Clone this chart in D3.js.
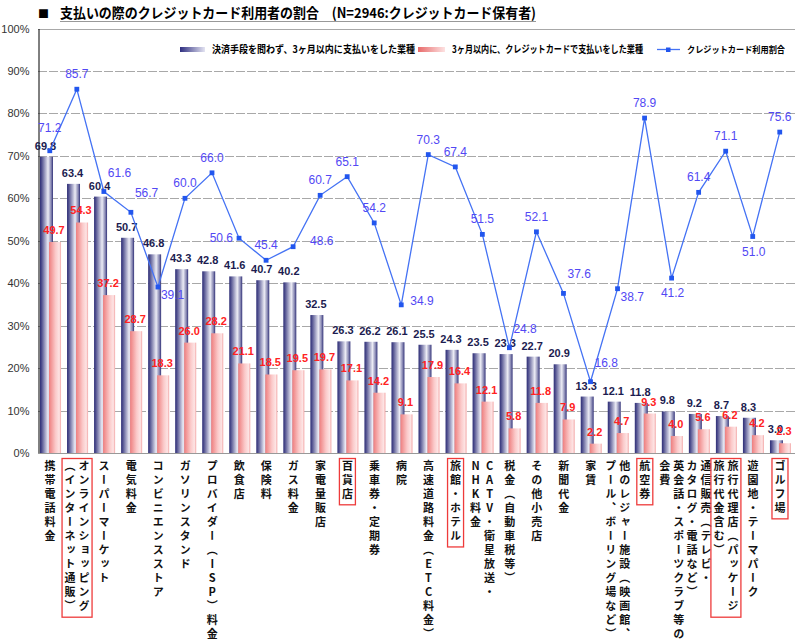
<!DOCTYPE html>
<html><head><meta charset="utf-8">
<script src="https://cdn.jsdelivr.net/npm/d3@7/dist/d3.min.js"></script>
<style>body{margin:0;background:#fff}svg{display:block}
.vt{writing-mode:vertical-rl;text-orientation:upright;}
</style>
</head><body><svg id="c" width="800" height="644"></svg>
<script>
const titleText = "支払いの際のクレジットカード利用者の割合　(N=2946:クレジットカード保有者)";
const seriesNames = ["決済手段を問わず、3ヶ月以内に支払いをした業種","3ヶ月以内に、クレジットカードで支払いをした業種","クレジットカード利用割合"];
const categories = ["携帯電話料金","オンラインショッピング（インターネット通販）","スーパーマーケット","電気料金","コンビニエンスストア","ガソリンスタンド","プロバイダー（ISP）料金","飲食店","保険料","ガス料金","家電量販店","百貨店","乗車券・定期券","病院","高速道路料金（ETC料金）","旅館・ホテル","CATV・衛星放送・NHK料金","税金（自動車税等）","その他小売店","新聞代金","家賃","他のレジャー施設（映画館、プール、ボーリング場など）","航空券","英会話・スポーツクラブ等の会費","通信販売（テレビ・カタログ・電話など）","旅行代理店（パッケージ旅行代金含む）","遊園地・テーマパーク","ゴルフ場"];
// tick label columns, right column first (vertical text)
const xLabelCols = [["携帯電話料金"],["オンラインショッピング","（インターネット通販）"],["スーパーマーケット"],["電気料金"],["コンビニエンスストア"],["ガソリンスタンド"],["プロバイダー（ISP）料金"],["飲食店"],["保険料"],["ガス料金"],["家電量販店"],["百貨店"],["乗車券・定期券"],["病院"],["高速道路料金（ETC料金）"],["旅館・ホテル"],["CATV・衛星放送・","NHK料金"],["税金（自動車税等）"],["その他小売店"],["新聞代金"],["家賃"],["他のレジャー施設（映画館、","プール、ボーリング場など）"],["航空券"],["英会話・スポーツクラブ等の","会費"],["通信販売（テレビ・","カタログ・電話など）"],["旅行代理店（パッケージ","旅行代金含む）"],["遊園地・テーマパーク"],["ゴルフ場"]];
const totalPct = [69.8,63.4,60.4,50.7,46.8,43.3,42.8,41.6,40.7,40.2,32.5,26.3,26.2,26.1,25.5,24.3,23.5,23.3,22.7,20.9,13.3,12.1,11.8,9.8,9.2,8.7,8.3,3.0];
const creditPct = [49.7,54.3,37.2,28.7,18.3,26.0,28.2,21.1,18.5,19.5,19.7,17.1,14.2,9.1,17.9,16.4,12.1,5.8,11.8,7.9,2.2,4.7,9.3,4.0,5.6,6.2,4.2,2.3];
const ratePct = [71.2,85.7,61.6,56.7,39.1,60.0,66.0,50.6,45.4,48.6,60.7,65.1,54.2,34.9,70.3,67.4,51.5,24.8,52.1,37.6,16.8,38.7,78.9,41.2,61.4,71.1,51.0,75.6];
const rateLabelPos = ["A","a","ra","ra","rb","a","a","l","a","R","a","a","a","r","a","a","a","ra","a","ra","ra","rb","a","b","a","a","b","a"];
const highlighted = ["オンラインショッピング（インターネット通販）","百貨店","旅館・ホテル","航空券","旅行代理店（パッケージ旅行代金含む）","ゴルフ場"];
const yTicks = [0,10,20,30,40,50,60,70,80,90,100];

const JP = "'Noto Sans CJK JP','Noto Sans',sans-serif";
const AR = "'Liberation Sans',Arial,sans-serif";
const svg = d3.select("#c");
const defs = svg.append("defs");
function grad(id, stops){
  const g = defs.append("linearGradient").attr("id",id).attr("x1","0").attr("x2","1").attr("y1","0").attr("y2","0");
  stops.forEach(s=>g.append("stop").attr("offset",s[0]).attr("stop-color",s[1]));
}
grad("gBlue",[[0,"#2e2e76"],[0.12,"#4c4c8c"],[0.62,"#ececf5"],[0.88,"#7c7cab"],[1,"#2e2e76"]]);
grad("gRed",[[0,"#ee7e7e"],[0.55,"#fbcaca"],[0.85,"#fde4e4"],[1,"#f3a6a6"]]);
grad("gBlueL",[[0,"#2e2e80"],[1,"#e4e4f2"]]);
grad("gRedL",[[0,"#e86a6a"],[1,"#fde2e2"]]);

const x = d3.scaleBand().domain(categories).range([38,795]).padding(0);
const y = d3.scaleLinear().domain([0,100]).range([453,28.5]);
const bw = x.bandwidth();

// title
svg.append("text").attr("x",38).attr("y",18).attr("font-size",11).attr("font-family",JP).text("■");
svg.append("text").attr("x",60).attr("y",18).attr("font-size",14).attr("font-weight",700).attr("font-family",JP)
  .attr("textLength",476).attr("lengthAdjust","spacingAndGlyphs").attr("fill","#000").text(titleText);
svg.append("line").attr("x1",60).attr("x2",536).attr("y1",21.5).attr("y2",21.5).attr("stroke","#999").attr("stroke-width",1);

// grid
const grid = svg.append("g");
grid.selectAll("line").data(yTicks.filter(t=>t>0)).join("line")
  .attr("x1",38).attr("x2",795).attr("y1",d=>Math.round(y(d))+0.5).attr("y2",d=>Math.round(y(d))+0.5)
  .attr("stroke","#a8a8a8").attr("stroke-width",1)
  .attr("stroke-dasharray",d=>d===100?null:"9,2");
// y axis
const yAxis = d3.axisLeft(y).tickValues(yTicks).tickFormat(d=>d+"%").tickSize(0).tickPadding(9);
const ya = svg.append("g").attr("transform","translate(38.5,0)").call(yAxis);
ya.select(".domain").attr("stroke","#000");
ya.selectAll("text").attr("font-family",AR).attr("font-size",11).attr("fill","#333");

// legend
svg.append("rect").attr("x",180).attr("y",47).attr("width",25).attr("height",5).attr("fill","url(#gBlueL)");
svg.append("text").attr("x",212).attr("y",53).attr("font-size",10).attr("font-weight",700).attr("font-family",JP)
  .attr("textLength",203).attr("lengthAdjust","spacingAndGlyphs").text(seriesNames[0]);
svg.append("rect").attr("x",418).attr("y",47).attr("width",27).attr("height",5).attr("fill","url(#gRedL)");
svg.append("text").attr("x",452).attr("y",53).attr("font-size",10).attr("font-weight",700).attr("font-family",JP)
  .attr("textLength",191).attr("lengthAdjust","spacingAndGlyphs").text(seriesNames[1]);
svg.append("line").attr("x1",657).attr("x2",680).attr("y1",49.5).attr("y2",49.5).attr("stroke","#4472f4").attr("stroke-width",1.3);
svg.append("rect").attr("x",666).attr("y",47.5).attr("width",4.5).attr("height",4.5).attr("fill","#2256ee");
svg.append("text").attr("x",687).attr("y",53).attr("font-size",9).attr("font-weight",700).attr("font-family",JP)
  .attr("textLength",98).attr("lengthAdjust","spacingAndGlyphs").text(seriesNames[2]);

// bars
const bars = svg.append("g");
bars.selectAll("rect.b").data(categories).join("rect").attr("class","b")
  .attr("x",d=>x(d)+bw*0.074).attr("width",bw*0.48)
  .attr("y",(d,i)=>y(totalPct[i])).attr("height",(d,i)=>y(0)-y(totalPct[i]))
  .attr("fill","url(#gBlue)");
bars.selectAll("rect.r").data(categories).join("rect").attr("class","r")
  .attr("x",d=>x(d)+bw*0.407).attr("width",bw*0.445)
  .attr("y",(d,i)=>y(creditPct[i])).attr("height",(d,i)=>y(0)-y(creditPct[i]))
  .attr("fill","url(#gRed)");
svg.append("line").attr("x1",38).attr("x2",795).attr("y1",453.5).attr("y2",453.5).attr("stroke","#999");

// bar labels
svg.append("g").selectAll("text").data(categories).join("text")
  .attr("x",d=>x(d)+bw*0.074+bw*0.24-1).attr("y",(d,i)=>y(totalPct[i])-7)
  .attr("text-anchor","middle").attr("font-family",AR).attr("font-size",11).attr("font-weight",700).attr("fill","#1c1c50")
  .text((d,i)=>totalPct[i].toFixed(1));
svg.append("g").selectAll("text").data(categories).join("text")
  .attr("x",d=>x(d)+bw*0.407+bw*0.222-1).attr("y",(d,i)=>y(creditPct[i])-8)
  .attr("text-anchor","middle").attr("font-family",AR).attr("font-size",11).attr("font-weight",700).attr("fill","#ff2222")
  .text((d,i)=>creditPct[i].toFixed(1));

// line
const px = d=>x(d)+bw*0.436;
const line = d3.line().x(d=>px(d)).y((d,i)=>y(ratePct[i]));
svg.append("path").datum(categories).attr("d",line).attr("fill","none").attr("stroke","#4472f4").attr("stroke-width",1.3);
svg.append("g").selectAll("rect").data(categories).join("rect")
  .attr("x",d=>px(d)-2.4).attr("y",(d,i)=>y(ratePct[i])-2.4).attr("width",4.8).attr("height",4.8).attr("fill","#2256ee");
const posMap = {a:[0,-11,"middle"],A:[0,-19,"middle"],ra:[4,-15,"start"],rb:[3,12,"start"],r:[9,0,"start"],R:[17,-2,"start"],l:[-6,4,"end"],b:[1,19,"middle"]};
svg.append("g").selectAll("text").data(categories).join("text")
  .attr("x",(d,i)=>px(d)+posMap[rateLabelPos[i]][0]).attr("y",(d,i)=>y(ratePct[i])+posMap[rateLabelPos[i]][1])
  .attr("text-anchor",(d,i)=>posMap[rateLabelPos[i]][2])
  .attr("font-family",AR).attr("font-size",12).attr("fill","#5248f4")
  .text((d,i)=>ratePct[i].toFixed(1));

// x tick labels (vertical writing mode, one text per column)
const charTop = 465.7, charStep = 14.05, fs = 11;
const xl = svg.append("g");
categories.forEach((c,i)=>{
  const cols = xLabelCols[i];
  const cx = x(c)+bw/2;
  const colX = cols.length===1 ? [cx-1.5] : [cx+5.5, cx-8.5];
  cols.forEach((col,j)=>{
    xl.append("text").attr("class","vt").attr("x",colX[j]).attr("y",charTop-fs/2)
      .style("letter-spacing",(charStep-fs)+"px")
      .attr("font-family",JP).attr("font-size",fs).attr("font-weight",700).attr("fill","#111")
      .text(col);
  });
  if(highlighted.includes(c)){
    const maxLen = d3.max(cols,s=>Array.from(s).length);
    const x0 = d3.min(colX)-8, x1 = d3.max(colX)+8;
    xl.append("rect").attr("x",x0).attr("y",458.5).attr("width",x1-x0)
      .attr("height",charTop+(maxLen-1)*charStep+11-458.5)
      .attr("fill","none").attr("stroke","#ee3b3b").attr("stroke-width",1.3);
  }
});
</script></body></html>
